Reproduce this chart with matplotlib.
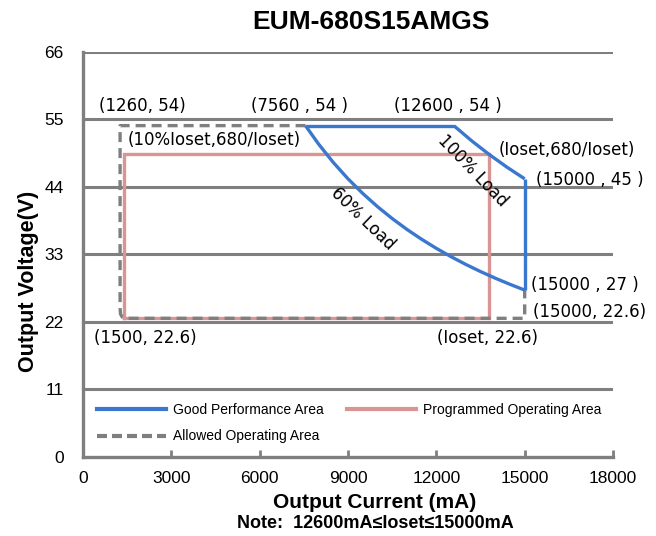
import matplotlib
matplotlib.use("Agg")
import matplotlib.pyplot as plt
from matplotlib.lines import Line2D

# ---- data ----
good_top_i = [7560, 12600]
good_top_v = [54, 54]
load100_i = [12600, 13200, 13800, 14400, 15000]
load100_v = [53.97, 51.52, 49.28, 47.22, 45.33]
good_right_i = [15000, 15000]
good_right_v = [45.33, 27.2]
load60_i = [15000, 14500, 14000, 13500, 13000, 12500, 12000, 11500, 11000, 10500,
            10000, 9500, 9000, 8500, 8000, 7560]
load60_v = [27.2, 28.14, 29.14, 30.22, 31.38, 32.64, 34.0, 35.48, 37.09, 38.86,
            40.8, 42.95, 45.33, 48.0, 51.0, 53.97]

prog_i = [1380, 1380, 13800, 13800, 1380]
prog_v = [22.6, 49.3, 49.3, 22.6, 22.6]

allowed_i = [7560, 1260, 1260, 1275, 1330, 1500, 15000, 15000]
allowed_v = [54, 54, 24.2, 23.3, 22.8, 22.6, 22.6, 27.2]

x_ticks = [0, 3000, 6000, 9000, 12000, 15000, 18000]
y_ticks = [0, 11, 22, 33, 44, 55, 66]

annotations = [
    ("(1260, 54)", 2011, 57.2, "center"),
    ("(7560 , 54 )", 7365, 57.2, "center"),
    ("(12600 , 54 )", 12376, 57.2, "center"),
    ("(10%Ioset,680/Ioset)", 1500, 51.7, "left"),
    ("(Ioset,680/Ioset)", 14115, 50.0, "left"),
    ("(15000 , 45 )", 15377, 45.1, "left"),
    ("(15000 , 27 )", 15206, 28.0, "left"),
    ("(15000, 22.6)", 15274, 23.6, "left"),
    ("(1500, 22.6)", 375, 19.4, "left"),
    ("(Ioset, 22.6)", 12035, 19.4, "left"),
]

BLUE = "#3a78d0"
PINK = "#d99594"
GRAY = "#7f7f7f"

fig = plt.figure(figsize=(6.56, 5.36), dpi=100)
ax = fig.add_axes([0.1265, 0.1474, 0.808, 0.7556])
ax.set_xlim(0, 18000)
ax.set_ylim(0, 66)

for y in y_ticks[1:]:
    ax.axhline(y, color=GRAY, lw=2.2, zorder=1)

ax.plot(prog_i, prog_v, color=PINK, lw=2.4, zorder=2, solid_joinstyle="miter")
ax.plot(allowed_i, allowed_v, color=GRAY, lw=2.4, ls=(0, (3, 1.8)), zorder=3)
for xs, ys in [(good_top_i, good_top_v), (load100_i, load100_v),
               (good_right_i, good_right_v), (load60_i, load60_v)]:
    ax.plot(xs, ys, color=BLUE, lw=2.4, zorder=4, solid_capstyle="butt")

afont = dict(family="DejaVu Sans", fontsize=12)
for txt, x, y, ha in annotations:
    ax.text(x, y, txt, ha=ha, va="center", **afont, zorder=6)
ax.text(13230, 46.7, "100% Load", rotation=-46, ha="center", va="center",
        rotation_mode="anchor", **afont)
ax.text(9512, 38.9, "60% Load", rotation=-44, ha="center", va="center",
        rotation_mode="anchor", **afont)

for s in ["top", "right"]:
    ax.spines[s].set_visible(False)
for s in ["left", "bottom"]:
    ax.spines[s].set_color(GRAY)
    ax.spines[s].set_linewidth(2.4)

ax.set_xticks(x_ticks)
ax.set_yticks(y_ticks)
ax.tick_params(axis="x", direction="in", length=5, width=2, color=GRAY, pad=10)
ax.tick_params(axis="y", length=0, pad=14)
for lab in ax.get_xticklabels() + ax.get_yticklabels():
    lab.set_family("Liberation Sans")
    lab.set_fontsize(12.5)

ax.set_xlabel("Output Current (mA)", family="Liberation Sans", fontsize=15,
              fontweight="bold")
ax.xaxis.set_label_coords((375 - 83) / 530, -(503 - 457) / 405)
ax.xaxis.label.set_va("center")
ax.set_ylabel("Output Voltage(V)", family="Liberation Sans", fontsize=15.5,
              fontweight="bold")
ax.yaxis.set_label_coords((29 - 83) / 530, (457 - 281) / 405)
ax.yaxis.label.set_va("center")
fig.text(375 / 656, 1 - 524 / 536, "Note:  12600mA\u2264Ioset\u226415000mA",
         ha="center", va="center", family=["Liberation Sans", "DejaVu Sans"],
         fontsize=13, fontweight="bold")
fig.text(371 / 656, 1 - 22 / 536, "EUM-680S15AMGS", ha="center", va="center",
         family="Liberation Sans", fontsize=19, fontweight="bold")

handles = [
    Line2D([], [], color=BLUE, lw=3),
    Line2D([], [], color=GRAY, lw=3, ls=(0, (2.4, 1.2))),
    Line2D([], [], color=PINK, lw=3),
]
labels = ["Good Performance Area", "Allowed Operating Area", "Programmed Operating Area"]
leg = ax.legend(handles, labels, ncol=2, loc="upper left",
                bbox_to_anchor=((97 - 83) / 530 - 0.0, (457 - 403) / 405),
                frameon=False,
                prop=dict(family="Liberation Sans", size=10),
                handlelength=5.0, handletextpad=0.5, columnspacing=1.65,
                labelspacing=0.9, borderaxespad=0.0, borderpad=0.0)

fig.savefig("out.png", dpi=100)
